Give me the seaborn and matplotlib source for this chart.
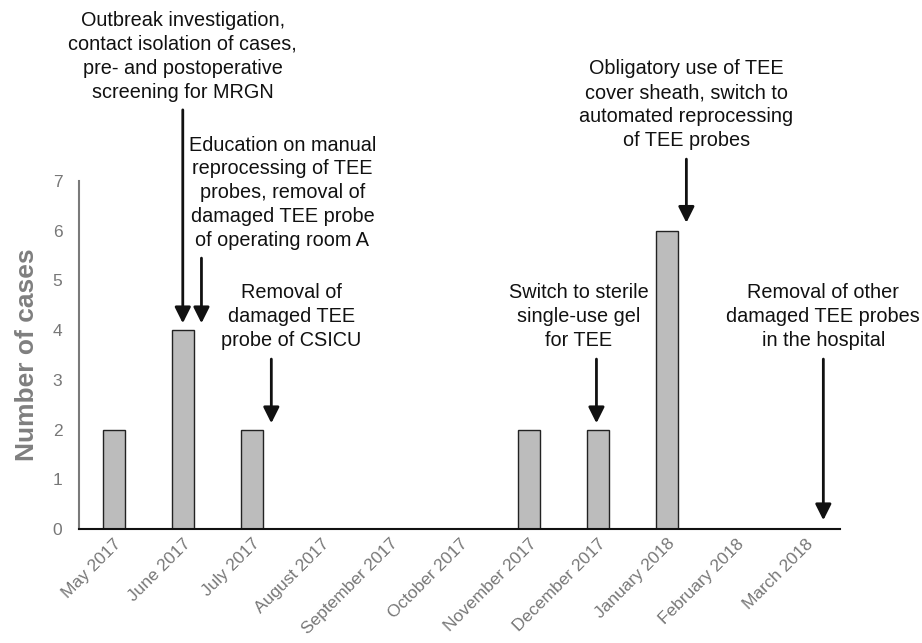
import matplotlib
matplotlib.use("Agg")
import matplotlib.pyplot as plt
import seaborn as sns

months = ["May 2017", "June 2017", "July 2017", "August 2017", "September 2017",
          "October 2017", "November 2017", "December 2017", "January 2018",
          "February 2018", "March 2018"]
cases = [2, 4, 2, 0, 0, 0, 2, 2, 6, 0, 0]

# interventions: label text, text centre (x, y), arrow x, arrow tail y, arrow tip y
notes = [
    "Outbreak investigation,\ncontact isolation of cases,\npre- and postoperative\nscreening for MRGN",
    "Education on manual\nreprocessing of TEE\nprobes, removal of\ndamaged TEE probe\nof operating room A",
    "Removal of\ndamaged TEE\nprobe of CSICU",
    "Switch to sterile\nsingle-use gel\nfor TEE",
    "Obligatory use of TEE\ncover sheath, switch to\nautomated reprocessing\nof TEE probes",
    "Removal of other\ndamaged TEE probes\nin the hospital",
]
note_x = [1.0, 2.44, 2.57, 6.72, 8.28, 10.26]
note_y = [9.51, 6.76, 4.27, 4.27, 8.53, 4.27]
arrow_x = [1.0, 1.27, 2.28, 6.98, 8.28, 10.26]
arrow_from = [8.43, 5.45, 3.42, 3.42, 7.44, 3.42]
arrow_to = [4.14, 4.14, 2.13, 2.13, 6.16, 0.18]

sns.set_style("white")
plt.rcParams["font.family"] = ["Liberation Sans", "DejaVu Sans"]

fig = plt.figure(figsize=(9.22, 6.43), dpi=100)
ax = fig.add_axes([0.0857, 0.177, 0.8253, 0.5415])

sns.barplot(x=months, y=cases, color="#bcbcbc", saturation=1, width=0.32,
            edgecolor="#222222", linewidth=1, ax=ax)

ax.set_xlim(-0.5, 10.5)
ax.set_ylim(0, 7)
ax.set_yticks(range(0, 8))

for s in ["top", "right"]:
    ax.spines[s].set_visible(False)
ax.spines["left"].set_color("#7a7a7a")
ax.spines["left"].set_linewidth(1.5)
ax.spines["bottom"].set_color("#111111")
ax.spines["bottom"].set_linewidth(1.5)

ax.tick_params(axis="both", length=0, colors="#777777", labelsize=12.5)
ax.tick_params(axis="y", pad=12)
ax.tick_params(axis="x", pad=5)
plt.setp(ax.get_xticklabels(), rotation=45, ha="right", rotation_mode="anchor")

ax.set_ylabel("Number of cases", fontsize=19, fontweight="bold", color="#7f7f7f", labelpad=10)
ax.set_xlabel("")

for txt, tx, ty in zip(notes, note_x, note_y):
    ax.text(tx, ty, txt, ha="center", va="center", fontsize=14.3, color="#111111",
            linespacing=1.33, clip_on=False)

for ax_x, y0, y1 in zip(arrow_x, arrow_from, arrow_to):
    ax.annotate("", xy=(ax_x, y1), xytext=(ax_x, y0), annotation_clip=False,
                arrowprops=dict(arrowstyle="-|>", color="#111111", lw=2,
                                mutation_scale=24, shrinkA=0, shrinkB=0))

fig.savefig("out.png", dpi=100)
